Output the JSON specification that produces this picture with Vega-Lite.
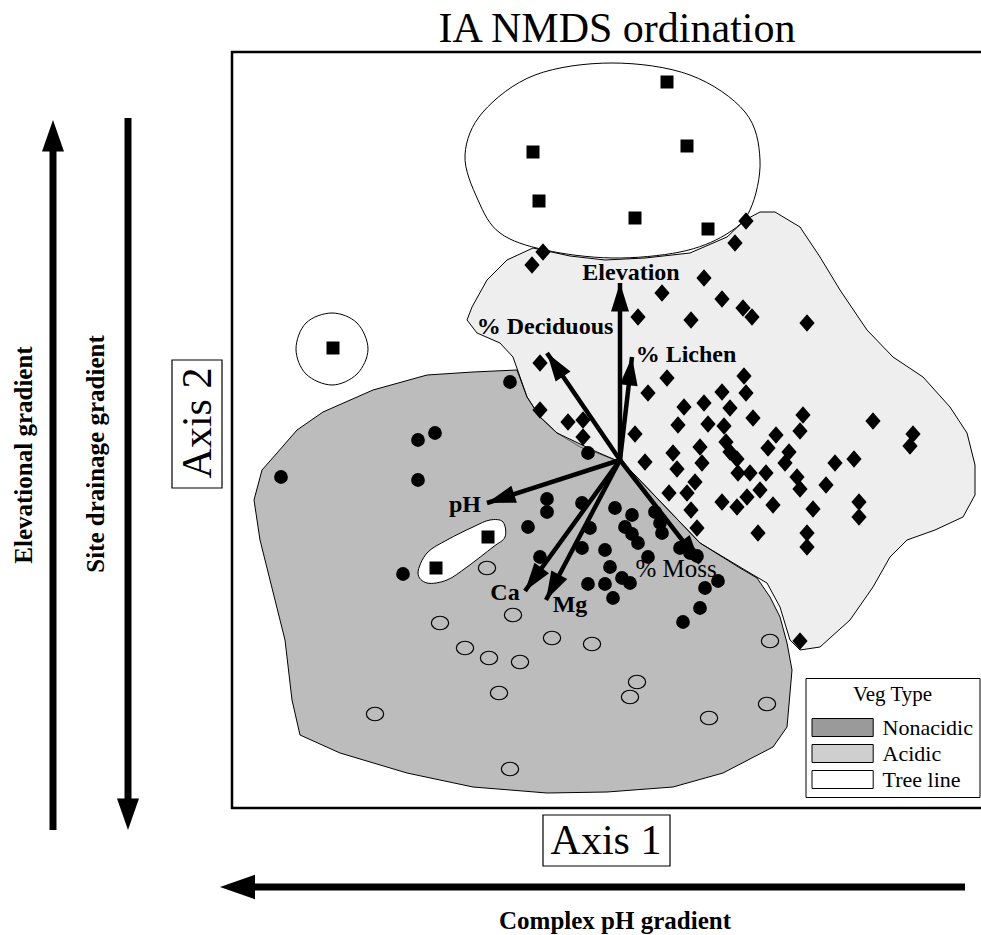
{
  "$schema": "https://vega.github.io/schema/vega-lite/v6.json",
  "width": 981,
  "height": 935,
  "autosize": "none",
  "padding": 0,
  "background": "white",
  "config": {"view": {"stroke": null}, "axis": {"disable": true}, "font": "Liberation Serif"},
  "datasets": {
    "sites": [
      {"axis1": 0.47, "axis2": 3.78, "type": "Tree line"},
      {"axis1": -0.87, "axis2": 3.08, "type": "Tree line"},
      {"axis1": 0.67, "axis2": 3.14, "type": "Tree line"},
      {"axis1": -0.81, "axis2": 2.59, "type": "Tree line"},
      {"axis1": 0.15, "axis2": 2.42, "type": "Tree line"},
      {"axis1": 0.88, "axis2": 2.31, "type": "Tree line"},
      {"axis1": -2.87, "axis2": 1.12, "type": "Tree line"},
      {"axis1": -1.32, "axis2": -0.77, "type": "Tree line"},
      {"axis1": -1.84, "axis2": -1.08, "type": "Tree line"},
      {"axis1": 1.26, "axis2": 2.39, "type": "Acidic"},
      {"axis1": 1.15, "axis2": 2.17, "type": "Acidic"},
      {"axis1": -0.77, "axis2": 2.08, "type": "Acidic"},
      {"axis1": -0.88, "axis2": 1.95, "type": "Acidic"},
      {"axis1": 0.84, "axis2": 1.82, "type": "Acidic"},
      {"axis1": 0.42, "axis2": 1.67, "type": "Acidic"},
      {"axis1": 1.02, "axis2": 1.61, "type": "Acidic"},
      {"axis1": 0.18, "axis2": 1.43, "type": "Acidic"},
      {"axis1": 0.71, "axis2": 1.40, "type": "Acidic"},
      {"axis1": 1.23, "axis2": 1.52, "type": "Acidic"},
      {"axis1": 1.32, "axis2": 1.43, "type": "Acidic"},
      {"axis1": 1.87, "axis2": 1.37, "type": "Acidic"},
      {"axis1": -0.80, "axis2": 0.97, "type": "Acidic"},
      {"axis1": -0.80, "axis2": 0.50, "type": "Acidic"},
      {"axis1": -0.52, "axis2": 0.38, "type": "Acidic"},
      {"axis1": -0.37, "axis2": 0.40, "type": "Acidic"},
      {"axis1": -0.37, "axis2": 0.23, "type": "Acidic"},
      {"axis1": 0.47, "axis2": 0.82, "type": "Acidic"},
      {"axis1": 1.24, "axis2": 0.84, "type": "Acidic"},
      {"axis1": 0.28, "axis2": 0.67, "type": "Acidic"},
      {"axis1": 1.02, "axis2": 0.68, "type": "Acidic"},
      {"axis1": 1.26, "axis2": 0.67, "type": "Acidic"},
      {"axis1": 0.64, "axis2": 0.53, "type": "Acidic"},
      {"axis1": 0.84, "axis2": 0.57, "type": "Acidic"},
      {"axis1": 1.10, "axis2": 0.52, "type": "Acidic"},
      {"axis1": 1.33, "axis2": 0.42, "type": "Acidic"},
      {"axis1": 1.83, "axis2": 0.45, "type": "Acidic"},
      {"axis1": 0.58, "axis2": 0.35, "type": "Acidic"},
      {"axis1": 0.88, "axis2": 0.36, "type": "Acidic"},
      {"axis1": 1.04, "axis2": 0.34, "type": "Acidic"},
      {"axis1": 1.80, "axis2": 0.29, "type": "Acidic"},
      {"axis1": 1.56, "axis2": 0.25, "type": "Acidic"},
      {"axis1": 0.15, "axis2": 0.26, "type": "Acidic"},
      {"axis1": 2.53, "axis2": 0.39, "type": "Acidic"},
      {"axis1": 2.93, "axis2": 0.26, "type": "Acidic"},
      {"axis1": 2.90, "axis2": 0.14, "type": "Acidic"},
      {"axis1": 0.80, "axis2": 0.13, "type": "Acidic"},
      {"axis1": 0.53, "axis2": 0.07, "type": "Acidic"},
      {"axis1": 1.06, "axis2": 0.18, "type": "Acidic"},
      {"axis1": 1.10, "axis2": 0.08, "type": "Acidic"},
      {"axis1": 1.17, "axis2": 0.01, "type": "Acidic"},
      {"axis1": 1.48, "axis2": 0.12, "type": "Acidic"},
      {"axis1": 1.69, "axis2": 0.08, "type": "Acidic"},
      {"axis1": 1.65, "axis2": -0.03, "type": "Acidic"},
      {"axis1": 0.25, "axis2": -0.02, "type": "Acidic"},
      {"axis1": 0.57, "axis2": -0.09, "type": "Acidic"},
      {"axis1": 0.82, "axis2": -0.03, "type": "Acidic"},
      {"axis1": 1.18, "axis2": -0.13, "type": "Acidic"},
      {"axis1": 1.30, "axis2": -0.13, "type": "Acidic"},
      {"axis1": 1.46, "axis2": -0.13, "type": "Acidic"},
      {"axis1": 1.77, "axis2": -0.17, "type": "Acidic"},
      {"axis1": 1.80, "axis2": -0.29, "type": "Acidic"},
      {"axis1": 2.15, "axis2": -0.03, "type": "Acidic"},
      {"axis1": 2.34, "axis2": 0.01, "type": "Acidic"},
      {"axis1": 2.06, "axis2": -0.25, "type": "Acidic"},
      {"axis1": 0.75, "axis2": -0.22, "type": "Acidic"},
      {"axis1": 0.49, "axis2": -0.33, "type": "Acidic"},
      {"axis1": 0.67, "axis2": -0.33, "type": "Acidic"},
      {"axis1": 1.40, "axis2": -0.30, "type": "Acidic"},
      {"axis1": 1.27, "axis2": -0.37, "type": "Acidic"},
      {"axis1": 1.02, "axis2": -0.42, "type": "Acidic"},
      {"axis1": 1.17, "axis2": -0.47, "type": "Acidic"},
      {"axis1": 1.53, "axis2": -0.45, "type": "Acidic"},
      {"axis1": 1.93, "axis2": -0.49, "type": "Acidic"},
      {"axis1": 2.39, "axis2": -0.42, "type": "Acidic"},
      {"axis1": 2.39, "axis2": -0.57, "type": "Acidic"},
      {"axis1": 0.71, "axis2": -0.50, "type": "Acidic"},
      {"axis1": 0.77, "axis2": -0.68, "type": "Acidic"},
      {"axis1": 1.38, "axis2": -0.73, "type": "Acidic"},
      {"axis1": 1.87, "axis2": -0.73, "type": "Acidic"},
      {"axis1": 1.87, "axis2": -0.87, "type": "Acidic"},
      {"axis1": 1.80, "axis2": -1.81, "type": "Acidic"},
      {"axis1": -1.10, "axis2": 0.78, "type": "Nonacidic"},
      {"axis1": -1.85, "axis2": 0.27, "type": "Nonacidic"},
      {"axis1": -2.02, "axis2": 0.20, "type": "Nonacidic"},
      {"axis1": -3.39, "axis2": -0.17, "type": "Nonacidic"},
      {"axis1": -2.02, "axis2": -0.20, "type": "Nonacidic"},
      {"axis1": -2.17, "axis2": -1.14, "type": "Nonacidic"},
      {"axis1": -0.73, "axis2": -0.39, "type": "Nonacidic"},
      {"axis1": -0.73, "axis2": -0.52, "type": "Nonacidic"},
      {"axis1": -0.92, "axis2": -0.67, "type": "Nonacidic"},
      {"axis1": -0.38, "axis2": -0.43, "type": "Nonacidic"},
      {"axis1": -0.30, "axis2": -0.68, "type": "Nonacidic"},
      {"axis1": -0.38, "axis2": -0.88, "type": "Nonacidic"},
      {"axis1": -0.80, "axis2": -0.97, "type": "Nonacidic"},
      {"axis1": -0.05, "axis2": -0.48, "type": "Nonacidic"},
      {"axis1": 0.12, "axis2": -0.55, "type": "Nonacidic"},
      {"axis1": 0.05, "axis2": -0.67, "type": "Nonacidic"},
      {"axis1": 0.12, "axis2": -0.74, "type": "Nonacidic"},
      {"axis1": 0.18, "axis2": -0.83, "type": "Nonacidic"},
      {"axis1": -0.15, "axis2": -0.90, "type": "Nonacidic"},
      {"axis1": 0.28, "axis2": -0.97, "type": "Nonacidic"},
      {"axis1": -0.10, "axis2": -1.07, "type": "Nonacidic"},
      {"axis1": -0.32, "axis2": -1.24, "type": "Nonacidic"},
      {"axis1": -0.15, "axis2": -1.24, "type": "Nonacidic"},
      {"axis1": 0.02, "axis2": -1.18, "type": "Nonacidic"},
      {"axis1": 0.10, "axis2": -1.23, "type": "Nonacidic"},
      {"axis1": -0.07, "axis2": -1.38, "type": "Nonacidic"},
      {"axis1": 0.35, "axis2": -0.52, "type": "Nonacidic"},
      {"axis1": 0.40, "axis2": -0.63, "type": "Nonacidic"},
      {"axis1": 0.42, "axis2": -0.73, "type": "Nonacidic"},
      {"axis1": 0.60, "axis2": -0.88, "type": "Nonacidic"},
      {"axis1": 0.70, "axis2": -0.93, "type": "Nonacidic"},
      {"axis1": 0.77, "axis2": -0.96, "type": "Nonacidic"},
      {"axis1": 0.85, "axis2": -1.28, "type": "Nonacidic"},
      {"axis1": 0.98, "axis2": -1.21, "type": "Nonacidic"},
      {"axis1": 0.80, "axis2": -1.48, "type": "Nonacidic"},
      {"axis1": 0.63, "axis2": -1.62, "type": "Nonacidic"},
      {"axis1": -0.32, "axis2": 0.07, "type": "Nonacidic"},
      {"axis1": -1.33, "axis2": -1.08, "type": "Nonacidic (open)"},
      {"axis1": -1.07, "axis2": -1.55, "type": "Nonacidic (open)"},
      {"axis1": -1.80, "axis2": -1.63, "type": "Nonacidic (open)"},
      {"axis1": -1.55, "axis2": -1.88, "type": "Nonacidic (open)"},
      {"axis1": -1.31, "axis2": -1.98, "type": "Nonacidic (open)"},
      {"axis1": -1.00, "axis2": -2.02, "type": "Nonacidic (open)"},
      {"axis1": -0.68, "axis2": -1.78, "type": "Nonacidic (open)"},
      {"axis1": -0.28, "axis2": -1.84, "type": "Nonacidic (open)"},
      {"axis1": -1.21, "axis2": -2.33, "type": "Nonacidic (open)"},
      {"axis1": 0.10, "axis2": -2.37, "type": "Nonacidic (open)"},
      {"axis1": 0.17, "axis2": -2.22, "type": "Nonacidic (open)"},
      {"axis1": -2.45, "axis2": -2.54, "type": "Nonacidic (open)"},
      {"axis1": 0.89, "axis2": -2.58, "type": "Nonacidic (open)"},
      {"axis1": 1.47, "axis2": -2.44, "type": "Nonacidic (open)"},
      {"axis1": 1.50, "axis2": -1.81, "type": "Nonacidic (open)"},
      {"axis1": -1.10, "axis2": -3.09, "type": "Nonacidic (open)"}
    ],
    "vectors": [
      {"var": "Elevation", "from1": 0, "from2": 0, "axis1": 0, "axis2": 1.77, "lx": 0.11, "ly": 1.87},
      {"var": "% Deciduous", "from1": 0, "from2": 0, "axis1": -0.73, "axis2": 1.07, "lx": -0.75, "ly": 1.33},
      {"var": "% Lichen", "from1": 0, "from2": 0, "axis1": 0.12, "axis2": 1.03, "lx": 0.66, "ly": 1.05},
      {"var": "pH", "from1": 0, "from2": 0, "axis1": -1.33, "axis2": -0.43, "lx": -1.55, "ly": -0.45},
      {"var": "Ca", "from1": 0, "from2": 0, "axis1": -0.95, "axis2": -1.31, "lx": -1.15, "ly": -1.33},
      {"var": "Mg", "from1": 0, "from2": 0, "axis1": -0.74, "axis2": -1.40, "lx": -0.50, "ly": -1.45},
      {"var": "% Moss", "from1": 0, "from2": 0, "axis1": 0.80, "axis2": -1.03, "lx": 0.56, "ly": -1.09}
    ],
    "regions": [
      {"veg": "Acidic", "poly": "acidic", "i": 0, "axis1": -0.87, "axis2": 2.12},
      {"veg": "Acidic", "poly": "acidic", "i": 1, "axis1": -0.50, "axis2": 2.04},
      {"veg": "Acidic", "poly": "acidic", "i": 2, "axis1": -0.15, "axis2": 2.00},
      {"veg": "Acidic", "poly": "acidic", "i": 3, "axis1": 0.25, "axis2": 2.02},
      {"veg": "Acidic", "poly": "acidic", "i": 4, "axis1": 0.70, "axis2": 2.07},
      {"veg": "Acidic", "poly": "acidic", "i": 5, "axis1": 1.07, "axis2": 2.23},
      {"veg": "Acidic", "poly": "acidic", "i": 6, "axis1": 1.25, "axis2": 2.40},
      {"veg": "Acidic", "poly": "acidic", "i": 7, "axis1": 1.40, "axis2": 2.48},
      {"veg": "Acidic", "poly": "acidic", "i": 8, "axis1": 1.55, "axis2": 2.48},
      {"veg": "Acidic", "poly": "acidic", "i": 9, "axis1": 1.80, "axis2": 2.33},
      {"veg": "Acidic", "poly": "acidic", "i": 10, "axis1": 2.00, "axis2": 2.03},
      {"veg": "Acidic", "poly": "acidic", "i": 11, "axis1": 2.20, "axis2": 1.70},
      {"veg": "Acidic", "poly": "acidic", "i": 12, "axis1": 2.47, "axis2": 1.30},
      {"veg": "Acidic", "poly": "acidic", "i": 13, "axis1": 2.73, "axis2": 1.03},
      {"veg": "Acidic", "poly": "acidic", "i": 14, "axis1": 3.03, "axis2": 0.83},
      {"veg": "Acidic", "poly": "acidic", "i": 15, "axis1": 3.30, "axis2": 0.53},
      {"veg": "Acidic", "poly": "acidic", "i": 16, "axis1": 3.47, "axis2": 0.27},
      {"veg": "Acidic", "poly": "acidic", "i": 17, "axis1": 3.55, "axis2": -0.05},
      {"veg": "Acidic", "poly": "acidic", "i": 18, "axis1": 3.55, "axis2": -0.35},
      {"veg": "Acidic", "poly": "acidic", "i": 19, "axis1": 3.43, "axis2": -0.57},
      {"veg": "Acidic", "poly": "acidic", "i": 20, "axis1": 3.15, "axis2": -0.70},
      {"veg": "Acidic", "poly": "acidic", "i": 21, "axis1": 2.87, "axis2": -0.80},
      {"veg": "Acidic", "poly": "acidic", "i": 22, "axis1": 2.70, "axis2": -0.97},
      {"veg": "Acidic", "poly": "acidic", "i": 23, "axis1": 2.53, "axis2": -1.27},
      {"veg": "Acidic", "poly": "acidic", "i": 24, "axis1": 2.30, "axis2": -1.60},
      {"veg": "Acidic", "poly": "acidic", "i": 25, "axis1": 2.00, "axis2": -1.87},
      {"veg": "Acidic", "poly": "acidic", "i": 26, "axis1": 1.80, "axis2": -1.90},
      {"veg": "Acidic", "poly": "acidic", "i": 27, "axis1": 1.70, "axis2": -1.80},
      {"veg": "Acidic", "poly": "acidic", "i": 28, "axis1": 1.60, "axis2": -1.47},
      {"veg": "Acidic", "poly": "acidic", "i": 29, "axis1": 1.47, "axis2": -1.23},
      {"veg": "Acidic", "poly": "acidic", "i": 30, "axis1": 1.30, "axis2": -1.13},
      {"veg": "Acidic", "poly": "acidic", "i": 31, "axis1": 0.80, "axis2": -0.83},
      {"veg": "Acidic", "poly": "acidic", "i": 32, "axis1": 0.13, "axis2": -0.13},
      {"veg": "Acidic", "poly": "acidic", "i": 33, "axis1": 0.00, "axis2": -0.02},
      {"veg": "Acidic", "poly": "acidic", "i": 34, "axis1": -0.23, "axis2": 0.07},
      {"veg": "Acidic", "poly": "acidic", "i": 35, "axis1": -0.40, "axis2": 0.13},
      {"veg": "Acidic", "poly": "acidic", "i": 36, "axis1": -0.63, "axis2": 0.27},
      {"veg": "Acidic", "poly": "acidic", "i": 37, "axis1": -0.80, "axis2": 0.43},
      {"veg": "Acidic", "poly": "acidic", "i": 38, "axis1": -0.93, "axis2": 0.63},
      {"veg": "Acidic", "poly": "acidic", "i": 39, "axis1": -1.00, "axis2": 0.83},
      {"veg": "Acidic", "poly": "acidic", "i": 40, "axis1": -1.07, "axis2": 1.03},
      {"veg": "Acidic", "poly": "acidic", "i": 41, "axis1": -1.20, "axis2": 1.17},
      {"veg": "Acidic", "poly": "acidic", "i": 42, "axis1": -1.43, "axis2": 1.27},
      {"veg": "Acidic", "poly": "acidic", "i": 43, "axis1": -1.53, "axis2": 1.40},
      {"veg": "Acidic", "poly": "acidic", "i": 44, "axis1": -1.48, "axis2": 1.53},
      {"veg": "Acidic", "poly": "acidic", "i": 45, "axis1": -1.33, "axis2": 1.80},
      {"veg": "Acidic", "poly": "acidic", "i": 46, "axis1": -1.13, "axis2": 2.00},
      {"veg": "Nonacidic", "poly": "nonacidic", "i": 0, "axis1": -1.03, "axis2": 0.90},
      {"veg": "Nonacidic", "poly": "nonacidic", "i": 1, "axis1": -0.93, "axis2": 0.63},
      {"veg": "Nonacidic", "poly": "nonacidic", "i": 2, "axis1": -0.80, "axis2": 0.43},
      {"veg": "Nonacidic", "poly": "nonacidic", "i": 3, "axis1": -0.63, "axis2": 0.27},
      {"veg": "Nonacidic", "poly": "nonacidic", "i": 4, "axis1": -0.23, "axis2": 0.08},
      {"veg": "Nonacidic", "poly": "nonacidic", "i": 5, "axis1": 0.00, "axis2": -0.02},
      {"veg": "Nonacidic", "poly": "nonacidic", "i": 6, "axis1": 0.13, "axis2": -0.13},
      {"veg": "Nonacidic", "poly": "nonacidic", "i": 7, "axis1": 0.80, "axis2": -0.83},
      {"veg": "Nonacidic", "poly": "nonacidic", "i": 8, "axis1": 1.20, "axis2": -1.08},
      {"veg": "Nonacidic", "poly": "nonacidic", "i": 9, "axis1": 1.37, "axis2": -1.18},
      {"veg": "Nonacidic", "poly": "nonacidic", "i": 10, "axis1": 1.50, "axis2": -1.37},
      {"veg": "Nonacidic", "poly": "nonacidic", "i": 11, "axis1": 1.60, "axis2": -1.57},
      {"veg": "Nonacidic", "poly": "nonacidic", "i": 12, "axis1": 1.67, "axis2": -1.83},
      {"veg": "Nonacidic", "poly": "nonacidic", "i": 13, "axis1": 1.72, "axis2": -2.10},
      {"veg": "Nonacidic", "poly": "nonacidic", "i": 14, "axis1": 1.70, "axis2": -2.33},
      {"veg": "Nonacidic", "poly": "nonacidic", "i": 15, "axis1": 1.67, "axis2": -2.67},
      {"veg": "Nonacidic", "poly": "nonacidic", "i": 16, "axis1": 1.53, "axis2": -2.87},
      {"veg": "Nonacidic", "poly": "nonacidic", "i": 17, "axis1": 1.03, "axis2": -3.13},
      {"veg": "Nonacidic", "poly": "nonacidic", "i": 18, "axis1": 0.53, "axis2": -3.27},
      {"veg": "Nonacidic", "poly": "nonacidic", "i": 19, "axis1": -0.13, "axis2": -3.32},
      {"veg": "Nonacidic", "poly": "nonacidic", "i": 20, "axis1": -0.73, "axis2": -3.33},
      {"veg": "Nonacidic", "poly": "nonacidic", "i": 21, "axis1": -1.47, "axis2": -3.27},
      {"veg": "Nonacidic", "poly": "nonacidic", "i": 22, "axis1": -2.13, "axis2": -3.13},
      {"veg": "Nonacidic", "poly": "nonacidic", "i": 23, "axis1": -2.80, "axis2": -2.93},
      {"veg": "Nonacidic", "poly": "nonacidic", "i": 24, "axis1": -3.20, "axis2": -2.75},
      {"veg": "Nonacidic", "poly": "nonacidic", "i": 25, "axis1": -3.28, "axis2": -2.40},
      {"veg": "Nonacidic", "poly": "nonacidic", "i": 26, "axis1": -3.35, "axis2": -1.80},
      {"veg": "Nonacidic", "poly": "nonacidic", "i": 27, "axis1": -3.50, "axis2": -1.20},
      {"veg": "Nonacidic", "poly": "nonacidic", "i": 28, "axis1": -3.60, "axis2": -0.80},
      {"veg": "Nonacidic", "poly": "nonacidic", "i": 29, "axis1": -3.66, "axis2": -0.40},
      {"veg": "Nonacidic", "poly": "nonacidic", "i": 30, "axis1": -3.58, "axis2": -0.10},
      {"veg": "Nonacidic", "poly": "nonacidic", "i": 31, "axis1": -3.43, "axis2": 0.07},
      {"veg": "Nonacidic", "poly": "nonacidic", "i": 32, "axis1": -3.23, "axis2": 0.30},
      {"veg": "Nonacidic", "poly": "nonacidic", "i": 33, "axis1": -2.97, "axis2": 0.48},
      {"veg": "Nonacidic", "poly": "nonacidic", "i": 34, "axis1": -2.47, "axis2": 0.70},
      {"veg": "Nonacidic", "poly": "nonacidic", "i": 35, "axis1": -1.93, "axis2": 0.85},
      {"veg": "Nonacidic", "poly": "nonacidic", "i": 36, "axis1": -1.47, "axis2": 0.88},
      {"veg": "Tree line", "poly": "treeline_main", "i": 0, "axis1": 1.40, "axis2": 3.00},
      {"veg": "Tree line", "poly": "treeline_main", "i": 1, "axis1": 1.25, "axis2": 3.48},
      {"veg": "Tree line", "poly": "treeline_main", "i": 2, "axis1": 0.70, "axis2": 3.85},
      {"veg": "Tree line", "poly": "treeline_main", "i": 3, "axis1": -0.08, "axis2": 3.97},
      {"veg": "Tree line", "poly": "treeline_main", "i": 4, "axis1": -0.85, "axis2": 3.85},
      {"veg": "Tree line", "poly": "treeline_main", "i": 5, "axis1": -1.37, "axis2": 3.48},
      {"veg": "Tree line", "poly": "treeline_main", "i": 6, "axis1": -1.55, "axis2": 3.05},
      {"veg": "Tree line", "poly": "treeline_main", "i": 7, "axis1": -1.42, "axis2": 2.60},
      {"veg": "Tree line", "poly": "treeline_main", "i": 8, "axis1": -1.20, "axis2": 2.27},
      {"veg": "Tree line", "poly": "treeline_main", "i": 9, "axis1": -0.75, "axis2": 2.10},
      {"veg": "Tree line", "poly": "treeline_main", "i": 10, "axis1": -0.08, "axis2": 2.02},
      {"veg": "Tree line", "poly": "treeline_main", "i": 11, "axis1": 0.60, "axis2": 2.08},
      {"veg": "Tree line", "poly": "treeline_main", "i": 12, "axis1": 1.05, "axis2": 2.25},
      {"veg": "Tree line", "poly": "treeline_main", "i": 13, "axis1": 1.30, "axis2": 2.50},
      {"veg": "Tree line", "poly": "treeline_outlier", "i": 0, "axis1": -2.52, "axis2": 1.11},
      {"veg": "Tree line", "poly": "treeline_outlier", "i": 1, "axis1": -2.63, "axis2": 1.37},
      {"veg": "Tree line", "poly": "treeline_outlier", "i": 2, "axis1": -2.88, "axis2": 1.47},
      {"veg": "Tree line", "poly": "treeline_outlier", "i": 3, "axis1": -3.14, "axis2": 1.37},
      {"veg": "Tree line", "poly": "treeline_outlier", "i": 4, "axis1": -3.24, "axis2": 1.11},
      {"veg": "Tree line", "poly": "treeline_outlier", "i": 5, "axis1": -3.14, "axis2": 0.86},
      {"veg": "Tree line", "poly": "treeline_outlier", "i": 6, "axis1": -2.88, "axis2": 0.75},
      {"veg": "Tree line", "poly": "treeline_outlier", "i": 7, "axis1": -2.63, "axis2": 0.86},
      {"veg": "Tree line", "poly": "treeline_blob", "i": 0, "axis1": -1.17, "axis2": -0.62},
      {"veg": "Tree line", "poly": "treeline_blob", "i": 1, "axis1": -1.15, "axis2": -0.77},
      {"veg": "Tree line", "poly": "treeline_blob", "i": 2, "axis1": -1.27, "axis2": -0.87},
      {"veg": "Tree line", "poly": "treeline_blob", "i": 3, "axis1": -1.53, "axis2": -1.07},
      {"veg": "Tree line", "poly": "treeline_blob", "i": 4, "axis1": -1.73, "axis2": -1.20},
      {"veg": "Tree line", "poly": "treeline_blob", "i": 5, "axis1": -1.93, "axis2": -1.23},
      {"veg": "Tree line", "poly": "treeline_blob", "i": 6, "axis1": -2.02, "axis2": -1.13},
      {"veg": "Tree line", "poly": "treeline_blob", "i": 7, "axis1": -1.93, "axis2": -0.93},
      {"veg": "Tree line", "poly": "treeline_blob", "i": 8, "axis1": -1.73, "axis2": -0.80},
      {"veg": "Tree line", "poly": "treeline_blob", "i": 9, "axis1": -1.47, "axis2": -0.67},
      {"veg": "Tree line", "poly": "treeline_blob", "i": 10, "axis1": -1.30, "axis2": -0.60}
    ],
    "frame": [{"x1": -3.88, "x2": 3.9, "y1": 4.08, "y2": -3.48}],
    "axisboxes": [
      {"label": "Axis 2", "x1": -4.48, "x2": -3.98, "y1": 1.0, "y2": -0.28},
      {"label": "Axis 1", "x1": -0.77, "x2": 0.5, "y1": -3.55, "y2": -4.06}
    ],
    "gradients": [
      {"gradient": "Elevational gradient", "x1": -5.67, "x2": -5.67, "y1": -3.7, "y2": 3.2},
      {"gradient": "Site drainage gradient", "x1": -4.92, "x2": -4.92, "y1": 3.42, "y2": -3.5},
      {"gradient": "Complex pH gradient", "x1": 3.45, "x2": -3.8, "y1": -4.27, "y2": -4.27}
    ]
  },
  "layer": [
    {
      "data": {"name": "regions"},
      "transform": [{"filter": "datum.poly === 'acidic'"}],
      "mark": {"type": "line", "interpolate": "linear-closed", "stroke": "black", "strokeWidth": 1, "fillOpacity": 0.35},
      "encoding": {
        "x": {"field": "axis1", "type": "quantitative", "scale": {"domain": [-6.2, 3.61], "nice": false, "zero": false}},
        "y": {"field": "axis2", "type": "quantitative", "scale": {"domain": [-4.75, 4.6], "nice": false, "zero": false}},
        "order": {"field": "i", "type": "quantitative"},
        "fill": {
          "field": "veg", "type": "nominal",
          "scale": {"domain": ["Nonacidic", "Acidic", "Tree line"], "range": ["#9a9a9a", "#cfcfcf", "#ffffff"]},
          "legend": {
            "title": "Veg Type", "orient": "none", "legendX": 805.5, "legendY": 678, "direction": "vertical",
            "symbolType": "M-1,-0.75H4.1V0.75H-1Z", "symbolSize": 576, "symbolStrokeColor": "black", "symbolStrokeWidth": 1, "symbolOpacity": 1,
            "labelFont": "Liberation Serif", "labelFontSize": 22, "labelColor": "black", "labelOffset": 46,
            "titleFont": "Liberation Serif", "titleFontSize": 21, "titleFontWeight": "normal", "titleColor": "black", "titleAnchor": "middle", "titlePadding": 10,
            "padding": 6, "strokeColor": "black", "fillColor": "white", "rowPadding": 2, "cornerRadius": 0
          }
        }
      }
    },
    {
      "data": {"name": "regions"},
      "transform": [{"filter": "datum.poly === 'nonacidic'"}],
      "mark": {"type": "line", "interpolate": "linear-closed", "stroke": "black", "strokeWidth": 1, "fillOpacity": 0.66},
      "encoding": {
        "x": {"field": "axis1", "type": "quantitative", "scale": {"domain": [-6.2, 3.61], "nice": false, "zero": false}},
        "y": {"field": "axis2", "type": "quantitative", "scale": {"domain": [-4.75, 4.6], "nice": false, "zero": false}},
        "order": {"field": "i", "type": "quantitative"},
        "fill": {"field": "veg", "type": "nominal", "scale": {"domain": ["Nonacidic", "Acidic", "Tree line"], "range": ["#9a9a9a", "#cfcfcf", "#ffffff"]}}
      }
    },
    {
      "data": {"name": "regions"},
      "transform": [{"filter": "datum.veg === 'Tree line'"}],
      "mark": {"type": "line", "interpolate": "cardinal-closed", "stroke": "black", "strokeWidth": 1, "fillOpacity": 1},
      "encoding": {
        "x": {"field": "axis1", "type": "quantitative", "scale": {"domain": [-6.2, 3.61], "nice": false, "zero": false}},
        "y": {"field": "axis2", "type": "quantitative", "scale": {"domain": [-4.75, 4.6], "nice": false, "zero": false}},
        "order": {"field": "i", "type": "quantitative"},
        "detail": {"field": "poly", "type": "nominal"},
        "fill": {"field": "veg", "type": "nominal", "scale": {"domain": ["Nonacidic", "Acidic", "Tree line"], "range": ["#9a9a9a", "#cfcfcf", "#ffffff"]}}
      }
    },
    {
      "data": {"name": "sites"},
      "transform": [{"filter": "datum.type === 'Nonacidic (open)'"}],
      "mark": {"type": "point", "shape": "M-1.15,0A1.15,0.9 0 1,0 1.15,0A1.15,0.9 0 1,0 -1.15,0Z", "size": 225, "filled": false, "stroke": "black", "strokeWidth": 1.2, "opacity": 1},
      "encoding": {
        "x": {"field": "axis1", "type": "quantitative", "scale": {"domain": [-6.2, 3.61], "nice": false, "zero": false}},
        "y": {"field": "axis2", "type": "quantitative", "scale": {"domain": [-4.75, 4.6], "nice": false, "zero": false}}
      }
    },
    {
      "data": {"name": "sites"},
      "transform": [{"filter": "datum.type === 'Nonacidic'"}],
      "mark": {"type": "point", "shape": "circle", "size": 190, "filled": true, "fill": "black", "opacity": 1},
      "encoding": {
        "x": {"field": "axis1", "type": "quantitative", "scale": {"domain": [-6.2, 3.61], "nice": false, "zero": false}},
        "y": {"field": "axis2", "type": "quantitative", "scale": {"domain": [-4.75, 4.6], "nice": false, "zero": false}}
      }
    },
    {
      "data": {"name": "sites"},
      "transform": [{"filter": "datum.type === 'Acidic'"}],
      "mark": {"type": "point", "shape": "M0,-1.1L0.95,0L0,1.1L-0.95,0Z", "size": 256, "filled": true, "fill": "black", "opacity": 1},
      "encoding": {
        "x": {"field": "axis1", "type": "quantitative", "scale": {"domain": [-6.2, 3.61], "nice": false, "zero": false}},
        "y": {"field": "axis2", "type": "quantitative", "scale": {"domain": [-4.75, 4.6], "nice": false, "zero": false}}
      }
    },
    {
      "data": {"name": "sites"},
      "transform": [{"filter": "datum.type === 'Tree line'"}],
      "mark": {"type": "point", "shape": "square", "size": 169, "filled": true, "fill": "black", "opacity": 1},
      "encoding": {
        "x": {"field": "axis1", "type": "quantitative", "scale": {"domain": [-6.2, 3.61], "nice": false, "zero": false}},
        "y": {"field": "axis2", "type": "quantitative", "scale": {"domain": [-4.75, 4.6], "nice": false, "zero": false}}
      }
    },
    {
      "data": {"name": "vectors"},
      "mark": {"type": "rule", "stroke": "black", "strokeWidth": 4.5},
      "encoding": {
        "x": {"field": "from1", "type": "quantitative", "scale": {"domain": [-6.2, 3.61], "nice": false, "zero": false}},
        "y": {"field": "from2", "type": "quantitative", "scale": {"domain": [-4.75, 4.6], "nice": false, "zero": false}},
        "x2": {"field": "axis1"},
        "y2": {"field": "axis2"}
      }
    },
    {
      "data": {"name": "vectors"},
      "transform": [{"calculate": "atan2(datum.axis1, datum.axis2) * 180 / PI", "as": "heading"}],
      "mark": {"type": "point", "shape": "M0,0L-0.6,1.9L0.6,1.9Z", "size": 900, "filled": true, "fill": "black", "opacity": 1},
      "encoding": {
        "x": {"field": "axis1", "type": "quantitative", "scale": {"domain": [-6.2, 3.61], "nice": false, "zero": false}},
        "y": {"field": "axis2", "type": "quantitative", "scale": {"domain": [-4.75, 4.6], "nice": false, "zero": false}},
        "angle": {"field": "heading", "type": "quantitative", "scale": null}
      }
    },
    {
      "data": {"name": "vectors"},
      "transform": [{"filter": "datum.var !== '% Moss'"}],
      "mark": {"type": "text", "font": "Liberation Serif", "fontSize": 24, "fontWeight": "bold", "color": "black", "align": "center", "baseline": "middle"},
      "encoding": {
        "x": {"field": "lx", "type": "quantitative", "scale": {"domain": [-6.2, 3.61], "nice": false, "zero": false}},
        "y": {"field": "ly", "type": "quantitative", "scale": {"domain": [-4.75, 4.6], "nice": false, "zero": false}},
        "text": {"field": "var", "type": "nominal"}
      }
    },
    {
      "data": {"name": "vectors"},
      "transform": [{"filter": "datum.var === '% Moss'"}],
      "mark": {"type": "text", "font": "Liberation Serif", "fontSize": 25, "fontWeight": "normal", "color": "black", "align": "center", "baseline": "middle"},
      "encoding": {
        "x": {"field": "lx", "type": "quantitative", "scale": {"domain": [-6.2, 3.61], "nice": false, "zero": false}},
        "y": {"field": "ly", "type": "quantitative", "scale": {"domain": [-4.75, 4.6], "nice": false, "zero": false}},
        "text": {"field": "var", "type": "nominal"}
      }
    },
    {
      "data": {"name": "frame"},
      "mark": {"type": "rect", "filled": false, "stroke": "black", "strokeWidth": 2.5},
      "encoding": {
        "x": {"field": "x1", "type": "quantitative", "scale": {"domain": [-6.2, 3.61], "nice": false, "zero": false}},
        "x2": {"field": "x2"},
        "y": {"field": "y1", "type": "quantitative", "scale": {"domain": [-4.75, 4.6], "nice": false, "zero": false}},
        "y2": {"field": "y2"}
      }
    },
    {
      "data": {"name": "axisboxes"},
      "mark": {"type": "rect", "filled": false, "stroke": "black", "strokeWidth": 1.2},
      "encoding": {
        "x": {"field": "x1", "type": "quantitative", "scale": {"domain": [-6.2, 3.61], "nice": false, "zero": false}},
        "x2": {"field": "x2"},
        "y": {"field": "y1", "type": "quantitative", "scale": {"domain": [-4.75, 4.6], "nice": false, "zero": false}},
        "y2": {"field": "y2"}
      }
    },
    {
      "data": {"name": "gradients"},
      "mark": {"type": "rule", "stroke": "black", "strokeWidth": 7},
      "encoding": {
        "x": {"field": "x1", "type": "quantitative", "scale": {"domain": [-6.2, 3.61], "nice": false, "zero": false}},
        "x2": {"field": "x2"},
        "y": {"field": "y1", "type": "quantitative", "scale": {"domain": [-4.75, 4.6], "nice": false, "zero": false}},
        "y2": {"field": "y2"}
      }
    },
    {
      "data": {"values": [{}]},
      "mark": {"type": "text", "text": "IA NMDS ordination", "font": "Liberation Serif", "fontSize": 42, "color": "black", "align": "center", "baseline": "alphabetic"},
      "encoding": {
        "x": {"datum": -0.03, "type": "quantitative", "scale": {"domain": [-6.2, 3.61], "nice": false, "zero": false}},
        "y": {"datum": 4.18, "type": "quantitative", "scale": {"domain": [-4.75, 4.6], "nice": false, "zero": false}}
      }
    },
    {
      "data": {"values": [{}]},
      "mark": {"type": "text", "text": "Axis 2", "font": "Liberation Serif", "fontSize": 42, "color": "black", "align": "center", "baseline": "middle", "angle": 270},
      "encoding": {
        "x": {"datum": -4.22, "type": "quantitative", "scale": {"domain": [-6.2, 3.61], "nice": false, "zero": false}},
        "y": {"datum": 0.37, "type": "quantitative", "scale": {"domain": [-4.75, 4.6], "nice": false, "zero": false}}
      }
    },
    {
      "data": {"values": [{}]},
      "mark": {"type": "text", "text": "Axis 1", "font": "Liberation Serif", "fontSize": 42, "color": "black", "align": "center", "baseline": "middle"},
      "encoding": {
        "x": {"datum": -0.14, "type": "quantitative", "scale": {"domain": [-6.2, 3.61], "nice": false, "zero": false}},
        "y": {"datum": -3.81, "type": "quantitative", "scale": {"domain": [-4.75, 4.6], "nice": false, "zero": false}}
      }
    },
    {
      "data": {"values": [{}]},
      "mark": {"type": "point", "shape": "M0,0L-0.7,2L0.7,2Z", "size": 986, "filled": true, "fill": "black", "opacity": 1, "angle": 0},
      "encoding": {
        "x": {"datum": -5.67, "type": "quantitative", "scale": {"domain": [-6.2, 3.61], "nice": false, "zero": false}},
        "y": {"datum": 3.4, "type": "quantitative", "scale": {"domain": [-4.75, 4.6], "nice": false, "zero": false}}
      }
    },
    {
      "data": {"values": [{}]},
      "mark": {"type": "text", "text": "Elevational gradient", "font": "Liberation Serif", "fontSize": 25, "fontWeight": "bold", "color": "black", "align": "center", "baseline": "middle", "angle": 270},
      "encoding": {
        "x": {"datum": -5.96, "type": "quantitative", "scale": {"domain": [-6.2, 3.61], "nice": false, "zero": false}},
        "y": {"datum": 0.05, "type": "quantitative", "scale": {"domain": [-4.75, 4.6], "nice": false, "zero": false}}
      }
    },
    {
      "data": {"values": [{}]},
      "mark": {"type": "point", "shape": "M0,0L-0.7,2L0.7,2Z", "size": 986, "filled": true, "fill": "black", "opacity": 1, "angle": 180},
      "encoding": {
        "x": {"datum": -4.92, "type": "quantitative", "scale": {"domain": [-6.2, 3.61], "nice": false, "zero": false}},
        "y": {"datum": -3.7, "type": "quantitative", "scale": {"domain": [-4.75, 4.6], "nice": false, "zero": false}}
      }
    },
    {
      "data": {"values": [{}]},
      "mark": {"type": "text", "text": "Site drainage gradient", "font": "Liberation Serif", "fontSize": 25, "fontWeight": "bold", "color": "black", "align": "center", "baseline": "middle", "angle": 270},
      "encoding": {
        "x": {"datum": -5.24, "type": "quantitative", "scale": {"domain": [-6.2, 3.61], "nice": false, "zero": false}},
        "y": {"datum": 0.06, "type": "quantitative", "scale": {"domain": [-4.75, 4.6], "nice": false, "zero": false}}
      }
    },
    {
      "data": {"values": [{}]},
      "mark": {"type": "point", "shape": "M0,0L-0.7,2L0.7,2Z", "size": 1225, "filled": true, "fill": "black", "opacity": 1, "angle": 270},
      "encoding": {
        "x": {"datum": -4.0, "type": "quantitative", "scale": {"domain": [-6.2, 3.61], "nice": false, "zero": false}},
        "y": {"datum": -4.27, "type": "quantitative", "scale": {"domain": [-4.75, 4.6], "nice": false, "zero": false}}
      }
    },
    {
      "data": {"values": [{}]},
      "mark": {"type": "text", "text": "Complex pH gradient", "font": "Liberation Serif", "fontSize": 25, "fontWeight": "bold", "color": "black", "align": "center", "baseline": "middle"},
      "encoding": {
        "x": {"datum": -0.05, "type": "quantitative", "scale": {"domain": [-6.2, 3.61], "nice": false, "zero": false}},
        "y": {"datum": -4.61, "type": "quantitative", "scale": {"domain": [-4.75, 4.6], "nice": false, "zero": false}}
      }
    }
  ]
}
